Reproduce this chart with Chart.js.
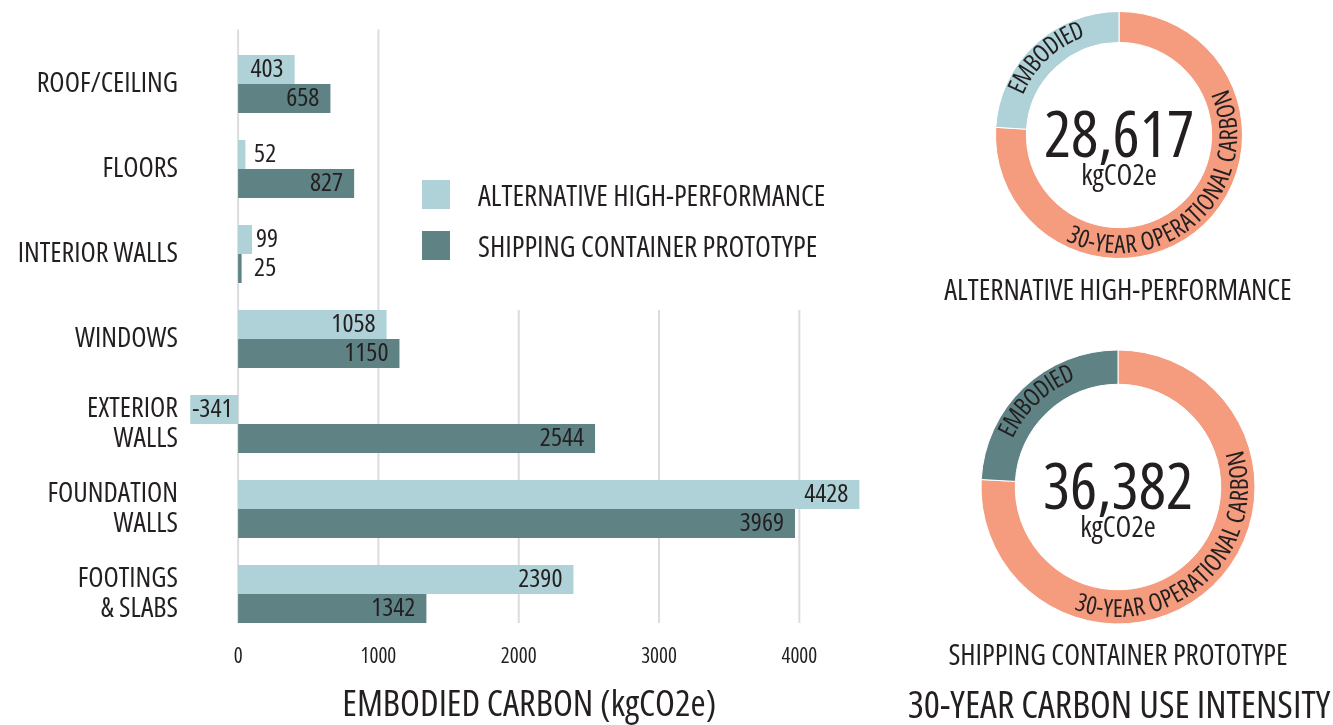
<!DOCTYPE html>
<html>
<head>
<meta charset="utf-8">
<title>Embodied carbon</title>
<script src="https://cdn.jsdelivr.net/npm/chart.js@4.4.1/dist/chart.umd.min.js"></script>
<style>
  html, body { margin: 0; padding: 0; background: #fff; }
  body {
    width: 1333px; height: 725px; position: relative; overflow: hidden;
    font-family: 'Open Sans', sans-serif; font-stretch: condensed;
    color: #231f20;
  }
  .box { position: absolute; }
  #legend { position: absolute; left: 422px; top: 180px; }
  .legend-item { display: flex; align-items: center; height: 29px; margin-bottom: 22px; font-size: 29px; white-space: nowrap; }
  .swatch { width: 28px; height: 29px; margin-right: 28px; flex: none; }
  .caption { position: absolute; left: 868px; width: 500px; text-align: center; font-size: 29px; line-height: 30px; white-space: nowrap; }
  .title { position: absolute; left: 869px; width: 500px; top: 683px; text-align: center; font-size: 38px; line-height: 40px; white-space: nowrap; }
</style>
</head>
<body>
<div class="box" style="left:0;top:0;width:880px;height:725px"><canvas id="barChart"></canvas></div>
<div id="legend"></div>

<div class="box" style="left:969px;top:-15px;width:300px;height:300px"><canvas id="altDonut"></canvas></div>
<div class="caption" style="top:274px">ALTERNATIVE HIGH-PERFORMANCE</div>

<div class="box" style="left:953px;top:322px;width:330px;height:330px"><canvas id="shipDonut"></canvas></div>
<div class="caption" style="top:639px">SHIPPING CONTAINER PROTOTYPE</div>

<div class="title">30-YEAR CARBON USE INTENSITY</div>

<script>
const FAMILY = "'Open Sans', sans-serif"
const STRETCH = 'condensed'
const TEXT = '#231f20'

// bar chart data
const categories = [['ROOF/CEILING'], ['FLOORS'], ['INTERIOR WALLS'], ['WINDOWS'], ['EXTERIOR', 'WALLS'], ['FOUNDATION', 'WALLS'], ['FOOTINGS', '& SLABS']]
const alternativeValues = [403, 52, 99, 1058, -341, 4428, 2390]
const containerValues = [658, 827, 25, 1150, 2544, 3969, 1342]
const seriesNames = ['ALTERNATIVE HIGH-PERFORMANCE', 'SHIPPING CONTAINER PROTOTYPE']
const seriesColors = ['#aed2d7', '#5f8385']
const xTicks = [0, 1000, 2000, 3000, 4000]

// donut data
const donutLabels = ['30-YEAR OPERATIONAL CARBON', 'EMBODIED']
const alternativeDonut = [21747, 6870]
const containerDonut = [27602, 8780]
const operationalColor = '#f59c7f'

// chart.js puts weight before size in the font string, so the stretch keyword rides there
Chart.defaults.font.family = FAMILY
Chart.defaults.font.weight = STRETCH
Chart.defaults.color = TEXT

// html legend
const legendEl = document.getElementById('legend')
seriesNames.forEach((name, i) => {
  const item = document.createElement('div')
  item.className = 'legend-item'
  item.innerHTML = '<span class="swatch" style="background:' + seriesColors[i] + '"></span><span>' + name + '</span>'
  legendEl.appendChild(item)
})

// grid lines: they stop above the windows row where the legend sits
const gridPlugin = {
  id: 'gridLines',
  beforeDatasetsDraw(chart) {
    const { ctx, scales: { x, y } } = chart
    const band = y.getPixelForValue(1) - y.getPixelForValue(0)
    const barHalf = band * 0.34
    const top = y.getPixelForValue(0) - band * 0.64
    const bottom = y.getPixelForValue(categories.length - 1) + barHalf
    const belowLegend = y.getPixelForValue(3) - barHalf
    ctx.save()
    ctx.strokeStyle = '#dcdcdc'
    ctx.lineWidth = 2
    xTicks.forEach(v => {
      const px = x.getPixelForValue(v)
      ctx.beginPath()
      ctx.moveTo(px, px > legendEl.offsetLeft ? belowLegend : top)
      ctx.lineTo(px, bottom)
      ctx.stroke()
    })
    ctx.restore()
  }
}

// value labels at the end of each bar
const valueLabels = {
  id: 'valueLabels',
  afterDatasetsDraw(chart) {
    const { ctx } = chart
    ctx.save()
    ctx.font = STRETCH + ' 26px ' + FAMILY
    ctx.fillStyle = TEXT
    ctx.textBaseline = 'middle'
    chart.data.datasets.forEach((ds, di) => {
      chart.getDatasetMeta(di).data.forEach((bar, i) => {
        const v = ds.data[i]
        const text = String(v)
        const w = ctx.measureText(text).width
        const len = Math.abs(bar.x - bar.base)
        if (len > w + 4) {
          if (v >= 0) {
            ctx.textAlign = 'right'
            ctx.fillText(text, bar.x - 11, bar.y)
          } else {
            ctx.textAlign = 'left'
            ctx.fillText(text, bar.x + 2, bar.y)
          }
        } else {
          ctx.textAlign = 'left'
          ctx.fillText(text, Math.max(bar.base + 16, bar.x + 4), bar.y)
        }
      })
    })
    ctx.restore()
  }
}

new Chart(document.getElementById('barChart'), {
  type: 'bar',
  data: {
    labels: categories,
    datasets: [
      { label: seriesNames[0], data: alternativeValues, backgroundColor: seriesColors[0] },
      { label: seriesNames[1], data: containerValues, backgroundColor: seriesColors[1] }
    ]
  },
  options: {
    indexAxis: 'y',
    responsive: true,
    maintainAspectRatio: false,
    animation: false,
    categoryPercentage: 0.68,
    barPercentage: 1.0,
    layout: { padding: { top: 41.5, right: 10.5, left: 0, bottom: 0 } },
    plugins: { legend: { display: false }, tooltip: { enabled: false } },
    scales: {
      x: {
        min: -350,
        max: 4500,
        afterBuildTicks: (scale) => { scale.ticks = xTicks.map(v => ({ value: v })) },
        afterFit: (scale) => { scale.height = 88.5 },
        grid: { display: false, drawTicks: false },
        border: { display: false },
        ticks: { font: { size: 21 }, color: TEXT, padding: 8, callback: (v) => String(v) },
        title: {
          display: true,
          text: 'EMBODIED CARBON (kgCO2e)',
          font: { size: 36.5, lineHeight: 1.05 },
          color: TEXT,
          padding: { top: 0, bottom: 0 }
        }
      },
      y: {
        afterFit: (scale) => { scale.width = 189 },
        grid: { display: false, drawTicks: false },
        border: { display: false },
        ticks: { font: { size: 28, lineHeight: 1.05 }, color: TEXT, padding: 11 }
      }
    }
  },
  plugins: [gridPlugin, valueLabels]
})

// text bent along the ring
function drawArcText(ctx, text, cx, cy, r, mid, clockwise) {
  const chars = [...text]
  const widths = chars.map(ch => ctx.measureText(ch).width)
  const total = widths.reduce((a, b) => a + b, 0)
  let angle = clockwise ? mid - total / r / 2 : mid + total / r / 2
  chars.forEach((ch, i) => {
    const step = widths[i] / r
    const a = clockwise ? angle + step / 2 : angle - step / 2
    ctx.save()
    ctx.translate(cx + r * Math.cos(a), cy + r * Math.sin(a))
    ctx.rotate(clockwise ? a + Math.PI / 2 : a - Math.PI / 2)
    ctx.fillText(ch, 0, 0)
    ctx.restore()
    angle = clockwise ? angle + step : angle - step
  })
}

const ringText = {
  id: 'ringText',
  afterDraw(chart) {
    const { ctx } = chart
    const meta = chart.getDatasetMeta(0)
    const values = chart.data.datasets[0].data
    const total = values.reduce((a, b) => a + b, 0)
    ctx.save()
    ctx.fillStyle = TEXT
    ctx.textAlign = 'center'
    ctx.textBaseline = 'middle'
    ctx.font = STRETCH + ' 25px ' + FAMILY
    meta.data.forEach((arc, i) => {
      const { x, y, startAngle, endAngle, innerRadius, outerRadius } = arc.getProps(['x', 'y', 'startAngle', 'endAngle', 'innerRadius', 'outerRadius'], true)
      const mid = (startAngle + endAngle) / 2
      const r = (innerRadius + outerRadius) / 2 + 3
      drawArcText(ctx, chart.data.labels[i], x, y, r, mid, Math.sin(mid) < 0)
    })
    const c = meta.data[0]
    ctx.textBaseline = 'alphabetic'
    ctx.font = STRETCH + ' 64px ' + FAMILY
    ctx.fillText(total.toLocaleString('en-US'), c.x, c.y + 22)
    ctx.font = STRETCH + ' 29px ' + FAMILY
    ctx.fillText('kgCO2e', c.x, c.y + 50)
    ctx.restore()
  }
}

function makeDonut(id, values, embodiedColor, pad) {
  new Chart(document.getElementById(id), {
    type: 'doughnut',
    data: {
      labels: donutLabels,
      datasets: [{
        data: values,
        backgroundColor: [operationalColor, embodiedColor],
        borderColor: '#ffffff',
        borderWidth: 1
      }]
    },
    options: {
      responsive: true,
      maintainAspectRatio: false,
      animation: false,
      cutout: '75%',
      layout: { padding: pad },
      plugins: { legend: { display: false }, tooltip: { enabled: false } }
    },
    plugins: [ringText]
  })
}

makeDonut('altDonut', alternativeDonut, seriesColors[0], 26)
makeDonut('shipDonut', containerDonut, seriesColors[1], 27.5)
</script>
</body>
</html>
